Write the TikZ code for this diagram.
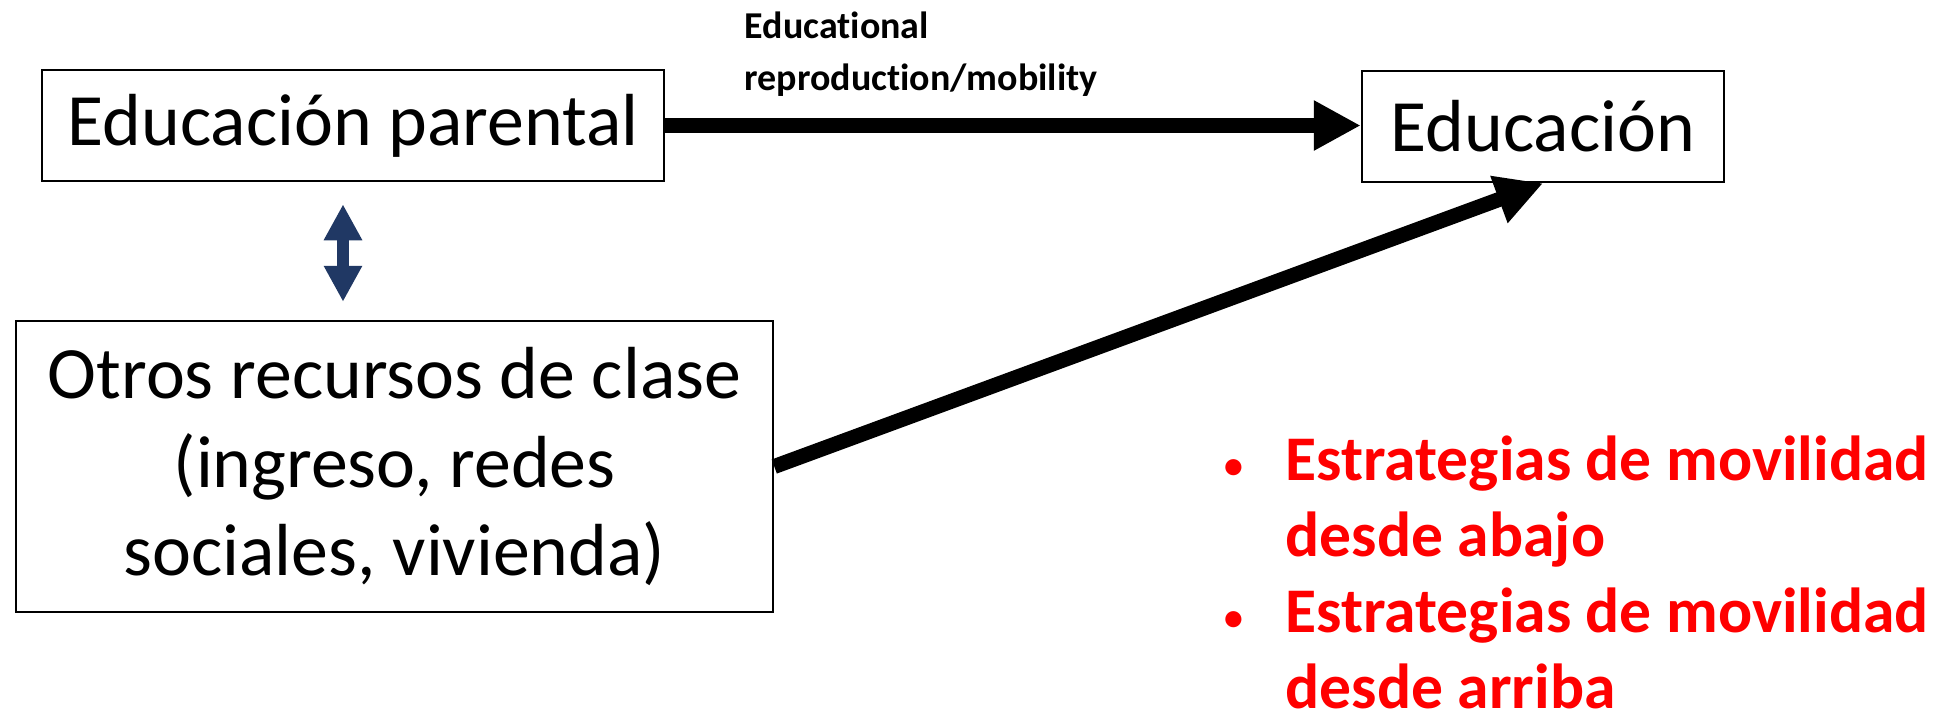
\documentclass[tikz,border=0pt]{standalone}
\usepackage{fontspec}
\setmainfont{Carlito}[Ligatures=NoCommon]
\usetikzlibrary{positioning,arrows.meta}
\definecolor{navy}{HTML}{203864}

\begin{document}
\begin{tikzpicture}[x=0.1mm, y=-0.1mm, >={Triangle[length=4.7mm,width=4.7mm]}, font=\fontsize{21}{25.3}\selectfont]
	\tikzstyle{box}=[draw=black, line width=0.25mm, inner sep=0pt, align=center]
	\tikzstyle{flecha}=[->, line width=1.5mm]
	\tikzstyle{doble}=[{Triangle[length=3.6mm,width=3.6mm]}-{Triangle[length=3.6mm,width=3.6mm]}, draw=navy, line width=1.25mm]
	\newcommand{\punto}{\makebox[10.4mm]{\mdseries\fontsize{13}{13}\selectfont•}}

	\useasboundingbox (0,0) rectangle (1942,714);

	\node[box, minimum width=62.2mm, minimum height=11.1mm] (padres) at (353,125.5) {Educación parental};
	\node[box, minimum width=36.2mm, minimum height=11.1mm] (edu) at (1543,126.5) {Educación};
	\node[box, minimum width=75.7mm, minimum height=29.1mm] (otros) at (394.5,466.5)
		{Otros recursos de clase\\(ingreso, redes\\sociales, vivienda)};

	\node[anchor=north west, inner sep=0pt, align=left, font=\bfseries\fontsize{10.8}{14.8}\selectfont] (etiqueta) at (744,11)
		{Educational\\reproduction/mobility};
	\node[anchor=north west, inner sep=0pt, text=red, font=\bfseries\fontsize{18.1}{21.6}\selectfont] (estrategias) at (1181,427)
		{\begin{tabular}{@{}c@{}l@{}}
			\punto & Estrategias de movilidad\\
			 & desde abajo\\
			\punto & Estrategias de movilidad\\
			 & desde arriba
		\end{tabular}};

	\draw[flecha] (padres.east) -- (padres.east -| edu.west);
	\draw[flecha] (otros.east) -- (edu.south);
	\draw[doble, shorten <=2.2mm, shorten >=1.8mm] ([xshift=-1mm]padres.south) -- ([xshift=-1mm]padres.south |- otros.north);
\end{tikzpicture}
\end{document}
